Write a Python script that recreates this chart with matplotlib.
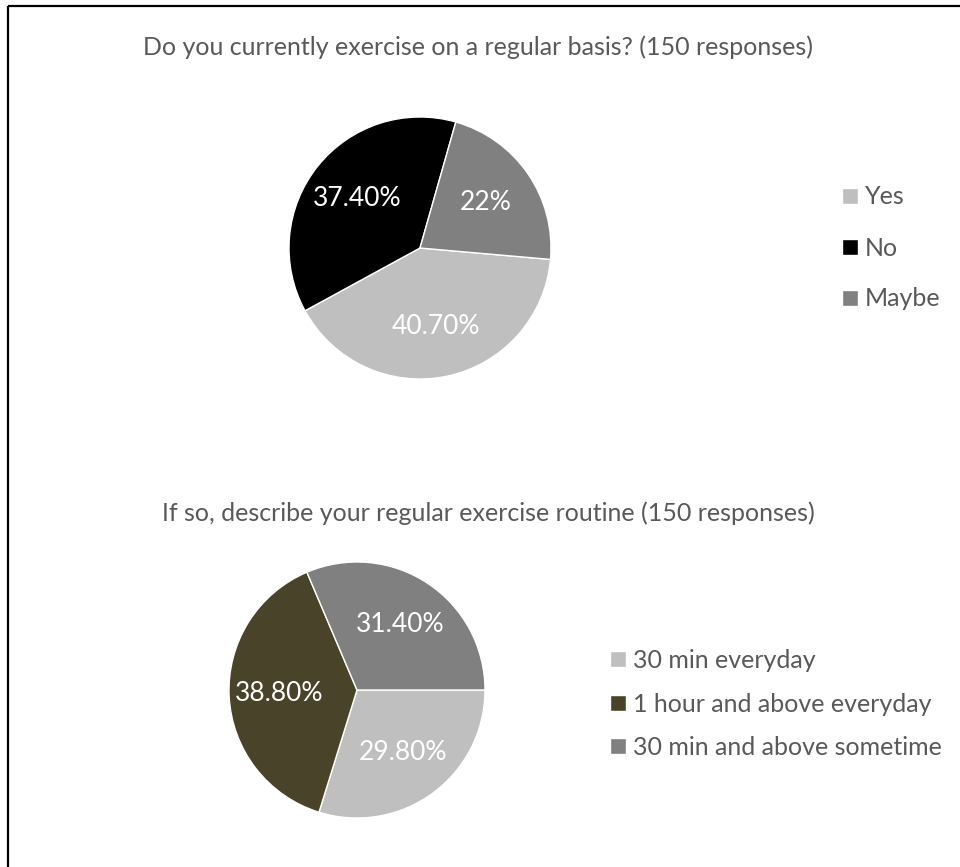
import matplotlib
matplotlib.use("Agg")
import matplotlib.pyplot as plt
from matplotlib.lines import Line2D

# ---- data ----
q1_title = "Do you currently exercise on a regular basis? (150 responses)"
q1_labels = ["Yes", "No", "Maybe"]
q1_values = [40.7, 37.4, 22.0]
q1_pct_text = ["40.70%", "37.40%", "22%"]
q1_colors = ["#BFBFBF", "#000000", "#808080"]

q2_title = "If so, describe your regular exercise routine (150 responses)"
q2_labels = ["30 min everyday", "1 hour and above everyday", "30 min and above sometime"]
q2_values = [29.8, 38.8, 31.4]
q2_pct_text = ["29.80%", "38.80%", "31.40%"]
q2_colors = ["#BFBFBF", "#494429", "#808080"]

W, H = 960, 867
FONT = "Lato"
TXT = "#595959"
FS = 18

plt.rcParams["font.family"] = [FONT, "DejaVu Sans"]
fig = plt.figure(figsize=(W / 100, H / 100), dpi=100)
fig.patch.set_facecolor("white")


def px(x, y):
    return x / W, 1 - y / H


def pie_axes(cx, cy, r):
    return fig.add_axes([(cx - r) / W, (H - cy - r) / H, 2 * r / W, 2 * r / H])


def draw_pie(ax, values, colors, texts, start):
    it = iter(texts)
    wedges, _, autotexts = ax.pie(
        values, colors=colors, startangle=start, counterclock=False,
        autopct=lambda p: next(it), pctdistance=0.61, radius=1,
        wedgeprops=dict(edgecolor="white", linewidth=1.0),
        textprops=dict(color="white", fontsize=FS + 1),
    )
    ax.set_xlim(-1, 1)
    ax.set_ylim(-1, 1)
    ax.set_aspect("auto")
    ax.axis("off")
    return wedges


# top chart
fig.text(*px(478, 47), q1_title, ha="center", va="center", fontsize=FS, color=TXT)
ax1 = pie_axes(420, 248, 131)
w1 = draw_pie(ax1, q1_values, q1_colors, q1_pct_text, -5)
fig.legend(w1, q1_labels, loc="center left", bbox_to_anchor=px(842, 248),
           frameon=False, fontsize=FS, labelcolor=TXT, handlelength=0.62,
           handleheight=0.62, handletextpad=0.3, labelspacing=1.12,
           borderpad=0, borderaxespad=0)

# bottom chart
fig.text(*px(488, 513), q2_title, ha="center", va="center", fontsize=FS, color=TXT)
ax2 = pie_axes(357, 690, 128)
w2 = draw_pie(ax2, q2_values, q2_colors, q2_pct_text, 0)
fig.legend(w2, q2_labels, loc="center left", bbox_to_anchor=px(610, 704),
           frameon=False, fontsize=FS, labelcolor=TXT, handlelength=0.62,
           handleheight=0.62, handletextpad=0.3, labelspacing=0.82,
           borderpad=0, borderaxespad=0)

# frame lines along the top and left edges
fig.add_artist(Line2D([8 / W, 1], [1 - 6 / H, 1 - 6 / H], transform=fig.transFigure,
                      color="black", linewidth=1.6, solid_capstyle="butt"))
fig.add_artist(Line2D([8 / W, 8 / W], [0, 1 - 6 / H], transform=fig.transFigure,
                      color="black", linewidth=1.6, solid_capstyle="butt"))

fig.savefig("out.png", dpi=100, facecolor="white")
